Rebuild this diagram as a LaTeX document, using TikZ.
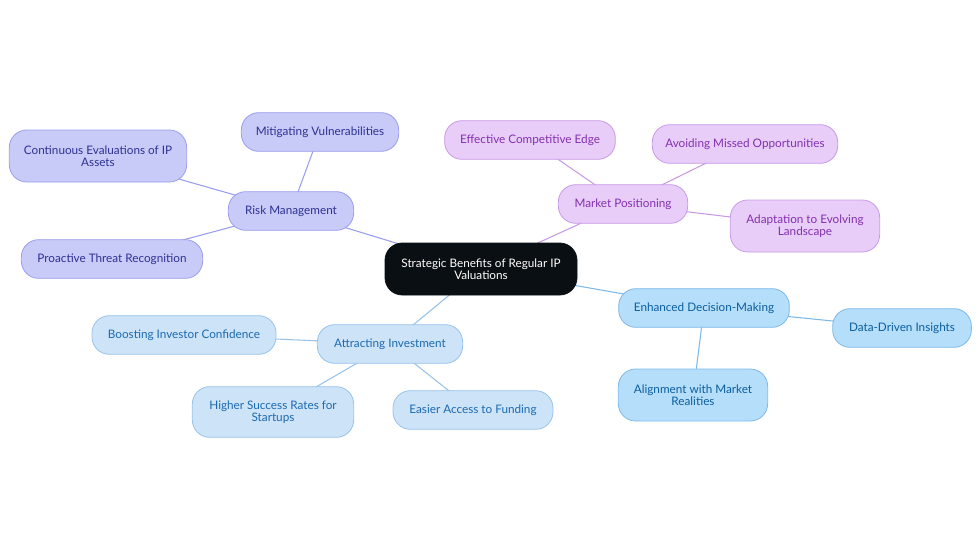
\documentclass[tikz,border=0pt]{standalone}
\usepackage{fontspec}
\setmainfont{Lato}
\usetikzlibrary{positioning,backgrounds}

\definecolor{riskfill}{HTML}{C8CBF8}
\definecolor{riskline}{HTML}{9A9EEB}
\definecolor{risktext}{HTML}{2E3192}
\definecolor{mktfill}{HTML}{E9CDF9}
\definecolor{mktline}{HTML}{C89BE6}
\definecolor{mkttext}{HTML}{8230AE}
\definecolor{decfill}{HTML}{B5DEFB}
\definecolor{decline}{HTML}{7DB9E8}
\definecolor{dectext}{HTML}{0B5E9E}
\definecolor{invfill}{HTML}{CDE3F8}
\definecolor{invline}{HTML}{98C2EA}
\definecolor{invtext}{HTML}{1B6AB0}
\definecolor{rootfill}{HTML}{0A0F14}

\begin{document}
\begin{tikzpicture}[
    x=0.75pt, y=-0.75pt,
    leaf/.style={draw, rounded corners=13pt, line width=0.6pt, minimum height=29pt, align=center, font=\fontsize{8.8}{9}\selectfont, inner sep=2pt},
    root/.style={leaf, fill=rootfill, draw=rootfill, text=white, minimum width=144pt, minimum height=39pt},
    risk/.style={leaf, fill=riskfill, draw=riskline, text=risktext},
    mkt/.style={leaf, fill=mktfill, draw=mktline, text=mkttext},
    dec/.style={leaf, fill=decfill, draw=decline, text=dectext},
    inv/.style={leaf, fill=invfill, draw=invline, text=invtext},
    link/.style={line width=0.8pt}
]
\useasboundingbox (0,0) rectangle (980,553);

\node[root] (c) at (481,269) {Strategic Benefits of Regular IP\\Valuations};

% risk management
\node[risk, minimum width=94pt] (rm) at (291,211) {Risk Management};
\node[risk, minimum width=118pt] (rm1) at (320,132) {Mitigating Vulnerabilities};
\node[risk, minimum width=133pt, minimum height=39pt] (rm2) at (98,156) {Continuous Evaluations of IP\\Assets};
\node[risk, minimum width=136pt] (rm3) at (112,259) {Proactive Threat Recognition};

% market positioning
\node[mkt, minimum width=97pt] (mp) at (623,204) {Market Positioning};
\node[mkt, minimum width=128pt] (mp1) at (530,140) {Effective Competitive Edge};
\node[mkt, minimum width=139pt] (mp2) at (745,144) {Avoiding Missed Opportunities};
\node[mkt, minimum width=112pt, minimum height=39pt] (mp3) at (805,226) {Adaptation to Evolving\\Landscape};

% decision making
\node[dec, minimum width=128pt] (dm) at (704,308) {Enhanced Decision-Making};
\node[dec, minimum width=104pt] (dm1) at (902,328) {Data-Driven Insights};
\node[dec, minimum width=112pt, minimum height=39pt] (dm2) at (693,395) {Alignment with Market\\Realities};

% investment
\node[inv, minimum width=109pt] (ai) at (390,344) {Attracting Investment};
\node[inv, minimum width=138pt] (ai1) at (184,335) {Boosting Investor Confidence};
\node[inv, minimum width=121pt, minimum height=38pt] (ai2) at (273,412) {Higher Success Rates for\\Startups};
\node[inv, minimum width=120pt] (ai3) at (473,410) {Easier Access to Funding};

\begin{scope}[on background layer]
\draw[link, riskline] (c.center) -- (rm.center);
\draw[link, riskline] (rm.center) -- (rm1.center);
\draw[link, riskline] (rm.center) -- (rm2.center);
\draw[link, riskline] (rm.center) -- (rm3.center);
\draw[link, mktline] (c.center) -- (mp.center);
\draw[link, mktline] (mp.center) -- (mp1.center);
\draw[link, mktline] (mp.center) -- (mp2.center);
\draw[link, mktline] (mp.center) -- (mp3.center);
\draw[link, decline] (c.center) -- (dm.center);
\draw[link, decline] (dm.center) -- (dm1.center);
\draw[link, decline] (dm.center) -- (dm2.center);
\draw[link, invline] (c.center) -- (ai.center);
\draw[link, invline] (ai.center) -- (ai1.center);
\draw[link, invline] (ai.center) -- (ai2.center);
\draw[link, invline] (ai.center) -- (ai3.center);
\end{scope}
\end{tikzpicture}
\end{document}
